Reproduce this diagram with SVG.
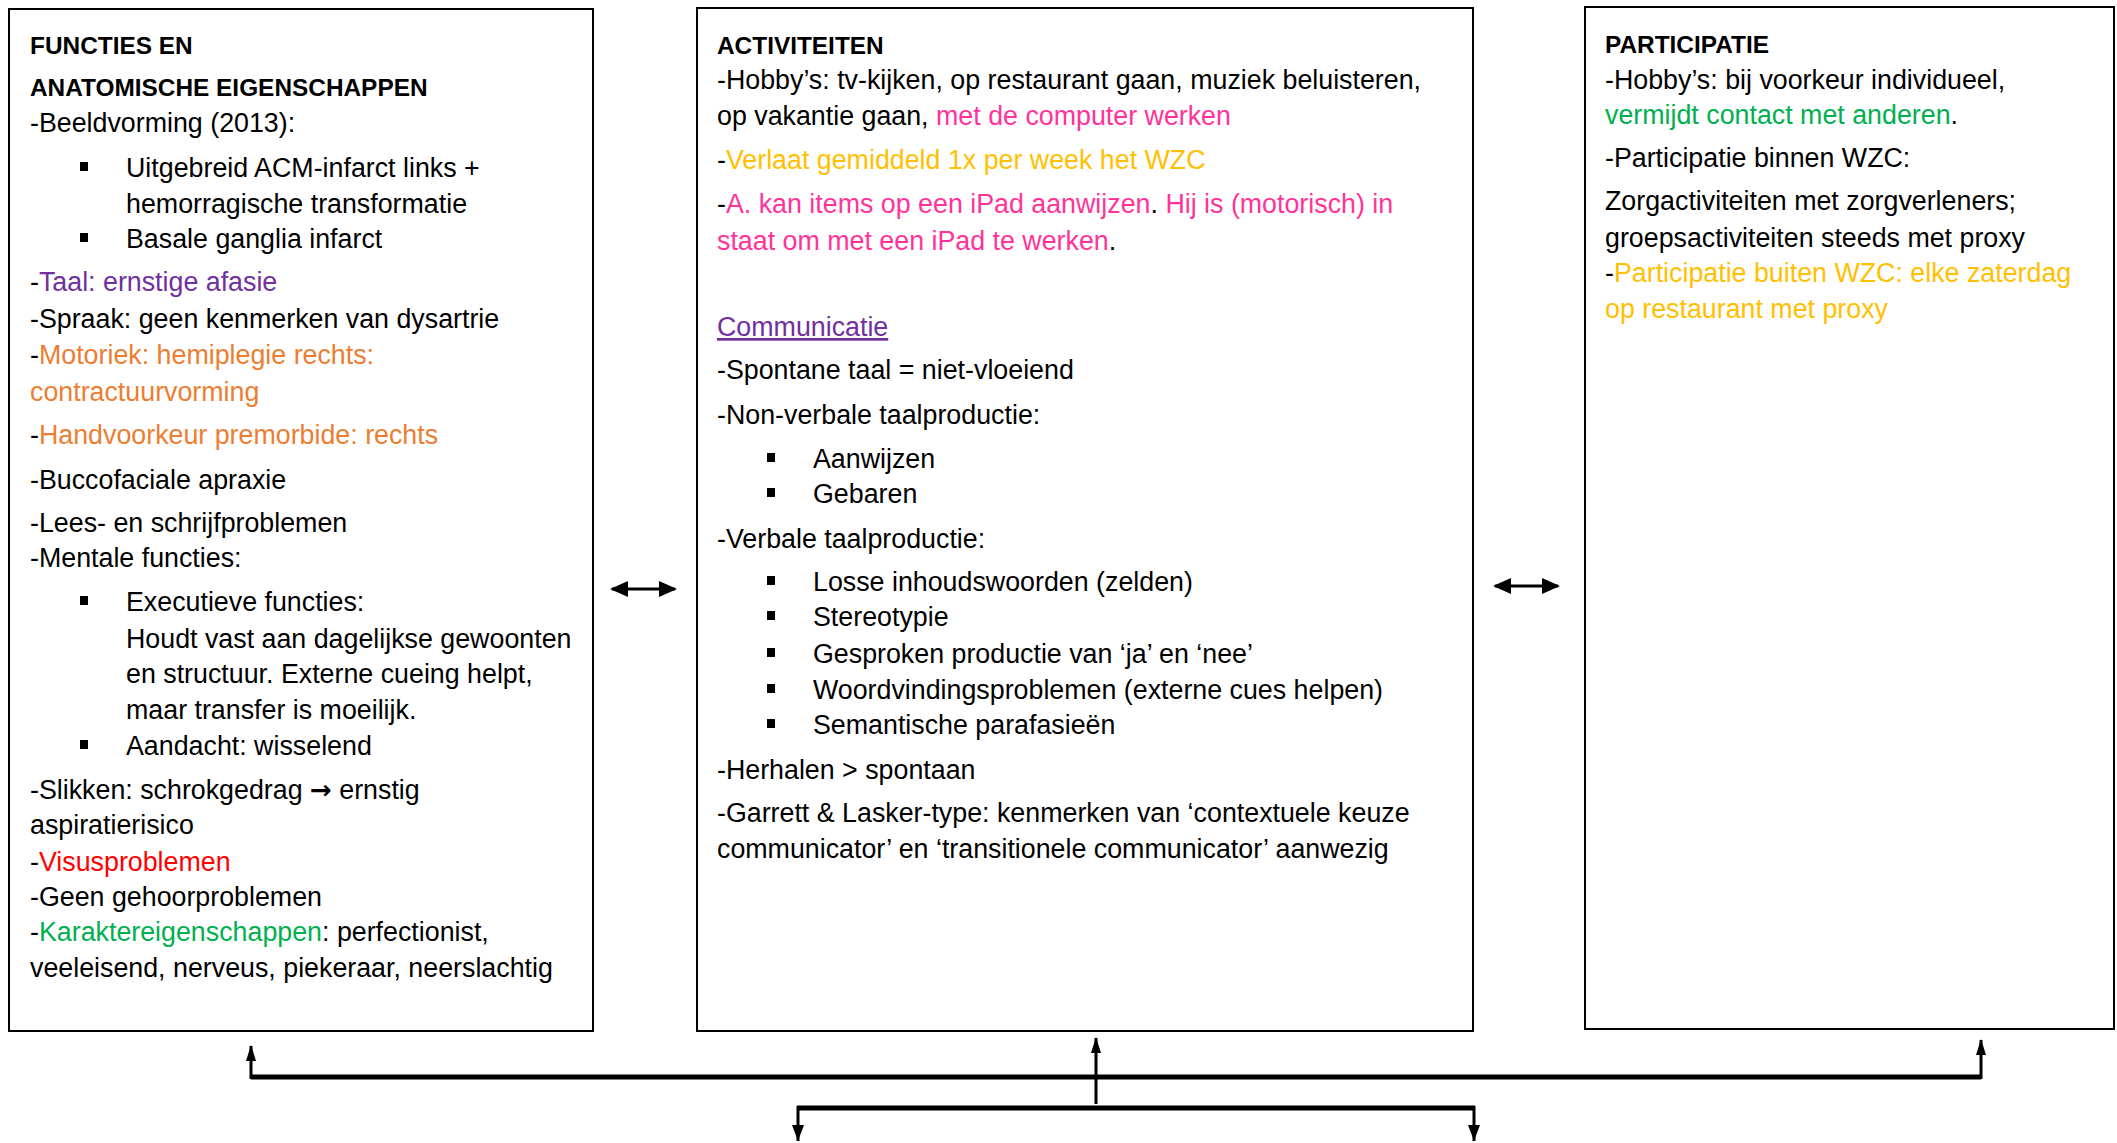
<svg xmlns="http://www.w3.org/2000/svg" width="2117" height="1143" viewBox="0 0 2117 1143">
<defs>
<style>
text{font-family:"Liberation Sans",Arial,sans-serif;font-size:26.8px;fill:#000}
.h{font-weight:bold;font-size:24.4px}
.box{fill:#fff;stroke:#000;stroke-width:2}
.pu{fill:#7030A0}.or{fill:#ED7D31}.rd{fill:#FF0000}.gr{fill:#00B050}.go{fill:#FFC000}.pk{fill:#FF3399}
.ar{font-family:"DejaVu Sans",sans-serif;font-weight:bold;font-size:26px}
.b{fill:#000}
.c{fill:none;stroke:#000;stroke-width:3}
.t{fill:none;stroke:#000;stroke-width:5}
</style>
<marker id="dh" markerUnits="userSpaceOnUse" markerWidth="18" markerHeight="16" refX="16" refY="8" orient="auto-start-reverse"><path d="M0,0 L18,8 L0,16 Z" fill="#000"/></marker>
<marker id="ah" markerUnits="userSpaceOnUse" markerWidth="16" markerHeight="10" refX="15" refY="5" orient="auto"><path d="M0,0 L16,5 L0,10 Z" fill="#000"/></marker>
<marker id="ad" markerUnits="userSpaceOnUse" markerWidth="16" markerHeight="12" refX="16" refY="6" orient="auto"><path d="M0,0 L16,6 L0,12 Z" fill="#000"/></marker>
</defs>
<rect width="2117" height="1143" fill="#fff"/>

<g id="node-functies">
<rect class="box" x="9" y="9" width="584" height="1022"/>
<text class="h" x="30" y="54">FUNCTIES EN</text>
<text class="h" x="30" y="96">ANATOMISCHE EIGENSCHAPPEN</text>
<text x="30" y="132">-Beeldvorming (2013):</text>
<rect class="b" x="80" y="162" width="8" height="9"/>
<text x="126" y="177">Uitgebreid ACM-infarct links +</text>
<text x="126" y="213">hemorragische transformatie</text>
<rect class="b" x="80" y="233" width="8" height="9"/>
<text x="126" y="248">Basale ganglia infarct</text>
<text x="30" y="291">-<tspan class="pu">Taal: ernstige afasie</tspan></text>
<text x="30" y="328">-Spraak: geen kenmerken van dysartrie</text>
<text x="30" y="364">-<tspan class="or">Motoriek: hemiplegie rechts:</tspan></text>
<text x="30" y="401" class="or">contractuurvorming</text>
<text x="30" y="444">-<tspan class="or">Handvoorkeur premorbide: rechts</tspan></text>
<text x="30" y="489">-Buccofaciale apraxie</text>
<text x="30" y="532">-Lees- en schrijfproblemen</text>
<text x="30" y="567">-Mentale functies:</text>
<rect class="b" x="80" y="596" width="8" height="9"/>
<text x="126" y="611">Executieve functies:</text>
<text x="126" y="648">Houdt vast aan dagelijkse gewoonten</text>
<text x="126" y="683">en structuur. Externe cueing helpt,</text>
<text x="126" y="719">maar transfer is moeilijk.</text>
<rect class="b" x="80" y="740" width="8" height="9"/>
<text x="126" y="755">Aandacht: wisselend</text>
<text x="30" y="799">-Slikken: schrokgedrag <tspan class="ar">→</tspan> ernstig</text>
<text x="30" y="834">aspiratierisico</text>
<text x="30" y="871">-<tspan class="rd">Visusproblemen</tspan></text>
<text x="30" y="906">-Geen gehoorproblemen</text>
<text x="30" y="941">-<tspan class="gr">Karaktereigenschappen</tspan>: perfectionist,</text>
<text x="30" y="977">veeleisend, nerveus, piekeraar, neerslachtig</text>
</g>

<g id="node-activiteiten">
<rect class="box" x="697" y="8" width="776" height="1023"/>
<text class="h" x="717" y="54">ACTIVITEITEN</text>
<text x="717" y="89">-Hobby’s: tv-kijken, op restaurant gaan, muziek beluisteren,</text>
<text x="717" y="125">op vakantie gaan, <tspan class="pk">met de computer werken</tspan></text>
<text x="717" y="169">-<tspan class="go">Verlaat gemiddeld 1x per week het WZC</tspan></text>
<text x="717" y="213">-<tspan class="pk">A. kan items op een iPad aanwijzen</tspan>. <tspan class="pk">Hij is (motorisch) in</tspan></text>
<text x="717" y="250"><tspan class="pk">staat om met een iPad te werken</tspan>.</text>
<text x="717" y="336" class="pu" text-decoration="underline">Communicatie</text>
<text x="717" y="379">-Spontane taal = niet-vloeiend</text>
<text x="717" y="424">-Non-verbale taalproductie:</text>
<rect class="b" x="767" y="453" width="8" height="9"/>
<text x="813" y="468">Aanwijzen</text>
<rect class="b" x="767" y="488" width="8" height="9"/>
<text x="813" y="503">Gebaren</text>
<text x="717" y="548">-Verbale taalproductie:</text>
<rect class="b" x="767" y="576" width="8" height="9"/>
<text x="813" y="591">Losse inhoudswoorden (zelden)</text>
<rect class="b" x="767" y="611" width="8" height="9"/>
<text x="813" y="626">Stereotypie</text>
<rect class="b" x="767" y="648" width="8" height="9"/>
<text x="813" y="663">Gesproken productie van ‘ja’ en ‘nee’</text>
<rect class="b" x="767" y="684" width="8" height="9"/>
<text x="813" y="699">Woordvindingsproblemen (externe cues helpen)</text>
<rect class="b" x="767" y="719" width="8" height="9"/>
<text x="813" y="734">Semantische parafasieën</text>
<text x="717" y="779">-Herhalen &gt; spontaan</text>
<text x="717" y="822">-Garrett &amp; Lasker-type: kenmerken van ‘contextuele keuze</text>
<text x="717" y="858">communicator’ en ‘transitionele communicator’ aanwezig</text>
</g>

<g id="node-participatie">
<rect class="box" x="1585" y="7" width="529" height="1022"/>
<text class="h" x="1605" y="53">PARTICIPATIE</text>
<text x="1605" y="89">-Hobby’s: bij voorkeur individueel,</text>
<text x="1605" y="124"><tspan class="gr">vermijdt contact met anderen</tspan>.</text>
<text x="1605" y="167">-Participatie binnen WZC:</text>
<text x="1605" y="210">Zorgactiviteiten met zorgverleners;</text>
<text x="1605" y="247">groepsactiviteiten steeds met proxy</text>
<text x="1605" y="282">-<tspan class="go">Participatie buiten WZC: elke zaterdag</tspan></text>
<text x="1605" y="318" class="go">op restaurant met proxy</text>
</g>

<g id="connectors">
<line class="c" x1="612" y1="589" x2="675" y2="589" marker-start="url(#dh)" marker-end="url(#dh)"/>
<line class="c" x1="1495" y1="586" x2="1558" y2="586" marker-start="url(#dh)" marker-end="url(#dh)"/>
<line class="t" x1="251" y1="1077" x2="1981" y2="1077"/>
<line class="c" x1="251" y1="1079" x2="251" y2="1046" marker-end="url(#ah)"/>
<line class="c" x1="1981" y1="1079" x2="1981" y2="1040" marker-end="url(#ah)"/>
<line class="c" x1="1096" y1="1104" x2="1096" y2="1038" marker-end="url(#ah)"/>
<line class="t" x1="797" y1="1108" x2="1475" y2="1108"/>
<line class="c" x1="798" y1="1106" x2="798" y2="1141" marker-end="url(#ad)"/>
<line class="c" x1="1474" y1="1106" x2="1474" y2="1141" marker-end="url(#ad)"/>
</g>
</svg>
